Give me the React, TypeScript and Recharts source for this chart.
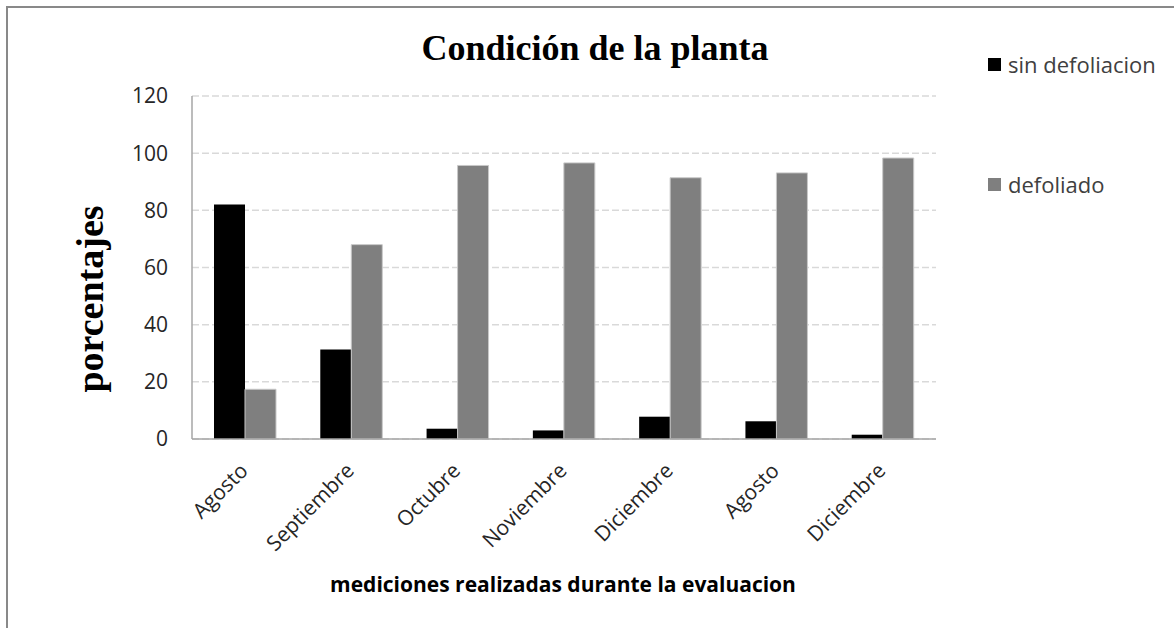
import React from 'react';
import { BarChart, Bar, XAxis, YAxis, CartesianGrid } from 'recharts';

const CATEGORIES = ['Agosto', 'Septiembre', 'Octubre', 'Noviembre', 'Diciembre', 'Agosto', 'Diciembre'];
const SIN_DEFOLIACION = [82, 31.3, 3.6, 3.0, 7.8, 6.2, 1.5];
const DEFOLIADO = [17.4, 68, 95.7, 96.6, 91.4, 93.1, 98.3];
const Y_TICKS = [0, 20, 40, 60, 80, 100, 120];

const SANS = '"Open Sans", "DejaVu Sans", sans-serif';
const SERIF = '"Liberation Serif", "DejaVu Serif", serif';

const W = 1174;
const H = 628;

const chartData = CATEGORIES.map((name, i) => ({
  name,
  sin: SIN_DEFOLIACION[i],
  def: DEFOLIADO[i],
}));

// rotated month labels, anchored at their end like the original
const MonthTick = (props: any) => {
  const { x, y, payload } = props;
  const tx = x + 4;
  const ty = y + 25;
  return (
    <text
      x={tx}
      y={ty}
      transform={`rotate(-45, ${tx}, ${ty})`}
      textAnchor="end"
      fontFamily={SANS}
      fontSize={21}
      fill="#262626"
    >
      {payload.value}
    </text>
  );
};

const legendItems = [
  { label: 'sin defoliacion', color: '#000000', top: 49 },
  { label: 'defoliado', color: '#7f7f7f', top: 169 },
];

export default function App() {
  return (
    <div style={{ position: 'absolute', left: 0, top: 0, width: W, height: H, overflow: 'hidden', background: '#fff' }}>
      {/* frame of the chart area, runs off right and bottom */}
      <div
        style={{
          position: 'absolute',
          left: 6,
          top: 6,
          width: W + 20,
          height: H + 20,
          borderTop: '2px solid #898989',
          borderLeft: '2px solid #898989',
        }}
      />
      <div style={{ position: 'absolute', left: 0, top: 0 }}>
        <BarChart
          width={W}
          height={H}
          data={chartData}
          margin={{ top: 96, right: 238, left: 132, bottom: 89 }}
          barGap={0}
          barSize={31}
        >
          <CartesianGrid vertical={false} stroke="#d9d9d9" strokeWidth={1.5} strokeDasharray="7 3" />
          <XAxis
            dataKey="name"
            interval={0}
            tick={<MonthTick />}
            tickLine={false}
            height={100}
            stroke="#a6a6a6"
            strokeWidth={1.5}
          />
          <YAxis
            domain={[0, 120]}
            ticks={Y_TICKS}
            width={60}
            tickLine={false}
            tickSize={0}
            tickMargin={24}
            stroke="#a6a6a6"
            strokeWidth={1.5}
            tick={{ fontFamily: SANS, fontSize: 21, fill: '#262626' }}
          />
          <Bar dataKey="sin" name="sin defoliacion" fill="#000000" isAnimationActive={false} />
          <Bar dataKey="def" name="defoliado" fill="#7f7f7f" stroke="#c8c8c8" strokeWidth={1} isAnimationActive={false} />
        </BarChart>
      </div>
      {legendItems.map((it) => (
        <div
          key={it.label}
          style={{
            position: 'absolute',
            left: 988,
            top: it.top,
            display: 'flex',
            alignItems: 'center',
            whiteSpace: 'nowrap',
            fontFamily: SANS,
            fontSize: 22,
            color: '#404040',
          }}
        >
          <span style={{ width: 13, height: 13, background: it.color, marginRight: 7 }} />
          {it.label}
        </div>
      ))}
      <svg width={W} height={H} style={{ position: 'absolute', left: 0, top: 0, pointerEvents: 'none' }}>
        <text x={595} y={60} textAnchor="middle" fontFamily={SERIF} fontWeight="bold" fontSize={36} fill="#000">
          Condición de la planta
        </text>
        <text
          x={90}
          y={299}
          transform="rotate(-90, 90, 299)"
          textAnchor="middle"
          dominantBaseline="central"
          fontFamily={SERIF}
          fontWeight="bold"
          fontSize={38}
          fill="#000"
        >
          porcentajes
        </text>
        <text x={563} y={592} textAnchor="middle" fontFamily={SANS} fontWeight="bold" fontSize={21} fill="#000">
          mediciones realizadas durante la evaluacion
        </text>
      </svg>
    </div>
  );
}
